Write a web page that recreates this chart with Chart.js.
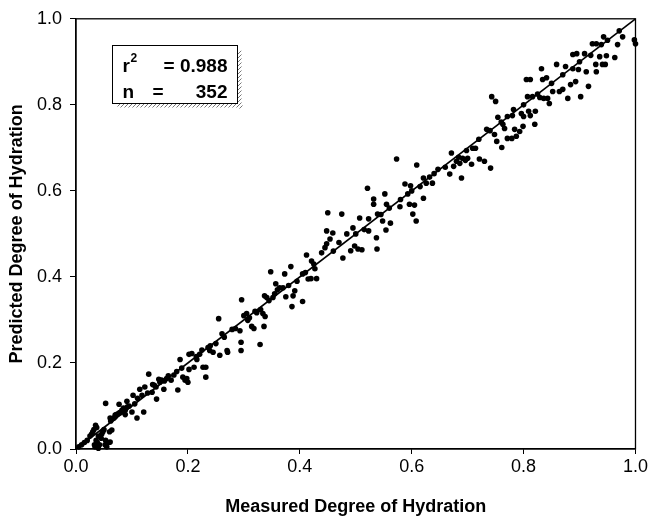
<!DOCTYPE html>
<html>
<head>
<meta charset="utf-8">
<script src="https://cdn.jsdelivr.net/npm/chart.js@4.4.1/dist/chart.umd.min.js"></script>
<style>
  html, body { margin: 0; padding: 0; background: #fff; }
  #wrap { width: 650px; height: 516px; position: relative; }
</style>
</head>
<body>
<div id="wrap"><canvas id="chart"></canvas></div>
<script>
// Measured vs predicted degree of hydration
const measured = [
  0.005,0.010,0.015,0.020,0.025,0.028,0.030,0.032,0.035,0.037,0.033,0.034,0.036,0.038,0.040,0.040,0.042,0.045,0.046,0.048,
  0.050,0.052,0.053,0.055,0.058,0.060,0.062,0.065,0.068,0.070,0.072,0.075,0.078,0.082,0.085,0.088,0.092,0.061,0.064,0.053,
  0.077,0.091,0.102,0.114,0.123,0.130,0.137,0.144,0.148,0.157,0.162,0.170,0.182,0.186,0.189,0.191,0.195,0.202,0.088,0.070,
  0.061,0.100,0.109,0.121,0.136,0.143,0.153,0.198,0.200,0.095,0.105,0.118,0.128,0.140,0.150,0.158,0.165,0.175,0.180,0.110,0.080,
  0.202,0.207,0.211,0.216,0.221,0.227,0.232,0.232,0.236,0.239,0.245,0.255,0.257,0.261,0.270,0.271,0.279,0.293,0.295,0.295,
  0.296,0.300,0.305,0.307,0.314,0.318,0.323,0.329,0.330,0.334,0.336,0.337,0.341,0.338,0.348,0.352,0.355,0.357,0.364,0.370,
  0.373,0.375,0.384,0.386,0.388,0.391,0.405,0.405,0.412,0.420,0.421,0.427,0.430,
  0.215,0.225,0.240,0.250,0.265,0.285,0.310,0.320,0.345,0.360,0.380,0.395,0.410,0.415,0.425,
  0.439,0.448,0.445,0.454,0.459,0.448,0.450,0.475,0.477,0.484,0.491,0.495,0.498,0.504,0.511,0.507,0.521,0.523,0.523,0.532,
  0.532,0.537,0.538,0.539,0.548,0.552,0.554,0.555,0.562,0.573,0.579,0.588,0.593,0.596,0.598,0.602,0.605,0.608,0.609,0.621,
  0.621,0.626,0.632,0.637,0.647,0.668,0.671,0.675,0.680,0.684,0.686,0.689,0.691,0.696,0.698,0.700,0.707,0.709,0.714,0.721,
  0.730,0.734,0.741,0.743,0.748,0.750,0.752,0.754,0.761,0.763,0.766,0.771,0.771,0.779,0.782,0.784,0.787,0.793,0.796,0.799,
  0.800,0.805,0.807,0.809,0.812,0.812,0.816,0.820,0.821,0.829,0.832,0.834,0.836,0.841,0.843,0.846,0.852,0.859,0.864,0.870,
  0.875,0.879,0.884,0.888,0.888,0.893,0.895,0.898,0.902,0.909,0.912,0.916,0.923,0.929,0.930,0.930,0.936,0.939,0.941,0.943,
  0.946,0.948,0.963,0.968,0.971,0.977,0.998,1.000,
  0.460,0.470,0.500,0.515,0.545,0.560,0.580,0.600,0.615,0.640,0.660,0.720,0.740,0.760,0.780,0.800,0.825,0.850,0.870,0.900,
  0.920,0.950
];
const predicted = [
  0.005,0.010,0.015,0.020,0.030,0.035,0.040,0.045,0.055,0.050,0.010,0.005,0.020,0.015,0.030,0.002,0.010,0.025,0.035,0.040,
  0.045,0.010,0.020,0.005,0.015,0.040,0.065,0.070,0.072,0.075,0.080,0.082,0.085,0.090,0.095,0.080,0.098,0.016,0.044,0.106,
  0.104,0.111,0.125,0.139,0.144,0.174,0.150,0.116,0.162,0.139,0.164,0.160,0.137,0.208,0.188,0.167,0.160,0.185,0.090,0.079,
  0.072,0.086,0.072,0.086,0.132,0.144,0.160,0.164,0.155,0.100,0.105,0.125,0.130,0.148,0.155,0.158,0.170,0.172,0.180,0.118,0.085,
  0.220,0.222,0.190,0.208,0.220,0.190,0.167,0.190,0.236,0.229,0.225,0.303,0.218,0.268,0.229,0.225,0.278,0.275,0.248,0.229,
  0.347,0.310,0.315,0.299,0.285,0.280,0.317,0.243,0.324,0.315,0.285,0.356,0.352,0.308,0.412,0.352,0.361,0.384,0.375,0.375,
  0.407,0.354,0.424,0.331,0.356,0.368,0.407,0.343,0.451,0.396,0.437,0.419,0.396,
  0.215,0.230,0.240,0.245,0.260,0.280,0.305,0.320,0.345,0.370,0.380,0.390,0.410,0.395,0.430,
  0.456,0.477,0.468,0.488,0.502,0.507,0.549,0.546,0.444,0.500,0.461,0.514,0.472,0.465,0.463,0.537,0.606,0.535,0.507,0.581,
  0.569,0.491,0.465,0.546,0.530,0.593,0.509,0.569,0.525,0.674,0.563,0.616,0.593,0.569,0.612,0.546,0.567,0.530,0.660,0.583,
  0.630,0.618,0.632,0.618,0.650,0.639,0.688,0.657,0.669,0.678,0.664,0.630,0.676,0.671,0.694,0.676,0.662,0.699,0.699,0.674,
  0.669,0.743,0.653,0.819,0.731,0.808,0.715,0.771,0.701,0.755,0.745,0.773,0.722,0.722,0.789,0.743,0.727,0.738,0.780,0.750,
  0.773,0.859,0.819,0.785,0.859,0.775,0.819,0.755,0.785,0.817,0.884,0.859,0.815,0.863,0.815,0.803,0.831,0.894,0.831,0.836,
  0.889,0.815,0.847,0.917,0.884,0.854,0.919,0.882,0.819,0.919,0.877,0.843,0.942,0.894,0.877,0.942,0.912,0.940,0.894,0.958,
  0.894,0.914,0.910,0.940,0.972,0.958,0.951,0.942,
  0.460,0.480,0.500,0.510,0.545,0.560,0.580,0.600,0.610,0.640,0.655,0.720,0.740,0.760,0.775,0.800,0.825,0.850,0.870,0.900,
  0.915,0.950
];
const lineX = [0, 1];
const lineY = [0, 1];
const axisTicks = [0, 0.2, 0.4, 0.6, 0.8, 1.0];
const statLabels = { r2: '= 0.988', n: '352' };

const FONT = '"Liberation Sans", Arial, Helvetica, sans-serif';

const points = measured.map((x, i) => ({ x: x, y: predicted[i] }));
const lineData = lineX.map((x, i) => ({ x: x, y: lineY[i] }));

// hatch pattern for the box shadow
function makeHatch() {
  const c = document.createElement('canvas');
  c.width = 4; c.height = 4;
  const g = c.getContext('2d');
  g.fillStyle = '#fff';
  g.fillRect(0, 0, 4, 4);
  g.strokeStyle = '#777';
  g.lineWidth = 1;
  g.beginPath();
  g.moveTo(0, 4); g.lineTo(4, 0);
  g.stroke();
  return c;
}

const framePlugin = {
  id: 'frame',
  beforeDatasetsDraw(chart) {
    const { ctx, chartArea: a } = chart;
    ctx.save();
    ctx.strokeStyle = '#000';
    ctx.lineWidth = 1.3;
    ctx.strokeRect(a.left, a.top, a.right - a.left, a.bottom - a.top);
    ctx.restore();
  },
  afterDatasetsDraw(chart) {
    const { ctx, scales } = chart;
    const x0 = Math.round(scales.x.getPixelForValue(0.064)) + 0.5;
    const y0 = Math.round(scales.y.getPixelForValue(0.940)) + 0.5;
    const w = 125, h = 58;
    ctx.save();
    // shadow
    ctx.fillStyle = ctx.createPattern(makeHatch(), 'repeat');
    ctx.fillRect(x0 + w, y0 + 5, 4, h);
    ctx.fillRect(x0 + 5, y0 + h, w, 4);
    ctx.fillStyle = '#fff';
    ctx.fillRect(x0, y0, w, h);
    ctx.strokeStyle = '#000';
    ctx.lineWidth = 1;
    ctx.strokeRect(x0, y0, w, h);
    ctx.fillStyle = '#000';
    ctx.textBaseline = 'alphabetic';
    ctx.font = 'bold 19px ' + FONT;
    ctx.textAlign = 'left';
    ctx.fillText('r', x0 + 10, y0 + 26);
    ctx.fillText('n', x0 + 10, y0 + 52);
    ctx.fillText('=', x0 + 40, y0 + 52);
    ctx.font = 'bold 12px ' + FONT;
    ctx.fillText('2', x0 + 18, y0 + 16);
    ctx.font = 'bold 19px ' + FONT;
    ctx.textAlign = 'right';
    ctx.fillText(statLabels.r2, x0 + w - 10, y0 + 26);
    ctx.fillText(statLabels.n, x0 + w - 10, y0 + 52);
    ctx.restore();
  }
};

new Chart(document.getElementById('chart'), {
  type: 'scatter',
  data: {
    datasets: [
      {
        label: 'Data',
        data: points,
        backgroundColor: '#000',
        borderColor: '#000',
        pointRadius: 2.8,
        pointHoverRadius: 2.8,
        borderWidth: 0,
        clip: false
      },
      {
        type: 'line',
        label: '1:1',
        data: lineData,
        borderColor: '#000',
        borderWidth: 1.6,
        pointRadius: 0,
        fill: false,
        clip: false
      }
    ]
  },
  options: {
    responsive: true,
    maintainAspectRatio: false,
    animation: false,
    events: [],
    layout: { padding: { top: 17, right: 14, left: 0, bottom: 0 } },
    plugins: {
      legend: { display: false },
      tooltip: { enabled: false }
    },
    scales: {
      x: {
        type: 'linear',
        min: 0, max: 1,
        afterBuildTicks: s => { s.ticks = axisTicks.map(v => ({ value: v })); },
        afterFit: s => { s.height = 67; },
        ticks: {
          color: '#000',
          font: { family: FONT, size: 18 },
          padding: 2,
          maxRotation: 0,
          callback: v => Number(v).toFixed(1)
        },
        grid: { display: true, drawOnChartArea: false, drawTicks: true, tickLength: 5, color: '#000', lineWidth: 1 },
        border: { display: true, color: '#000', width: 1.3 },
        title: {
          display: true,
          text: 'Measured Degree of Hydration',
          color: '#000',
          font: { family: FONT, size: 18, weight: 'bold' },
          padding: { top: 0, bottom: -2 }
        }
      },
      y: {
        type: 'linear',
        min: 0, max: 1,
        afterBuildTicks: s => { s.ticks = axisTicks.map(v => ({ value: v })); },
        afterFit: s => { s.width = 76; },
        ticks: {
          color: '#000',
          font: { family: FONT, size: 18 },
          padding: 8,
          callback: v => Number(v).toFixed(1)
        },
        grid: { display: true, drawOnChartArea: false, drawTicks: true, tickLength: 6, color: '#000', lineWidth: 1 },
        border: { display: true, color: '#000', width: 1.3 },
        title: {
          display: true,
          text: 'Predicted Degree of Hydration',
          color: '#000',
          font: { family: FONT, size: 18, weight: 'bold' },
          padding: { top: 6, bottom: 0 }
        }
      }
    }
  },
  plugins: [framePlugin]
});
</script>
</body>
</html>
